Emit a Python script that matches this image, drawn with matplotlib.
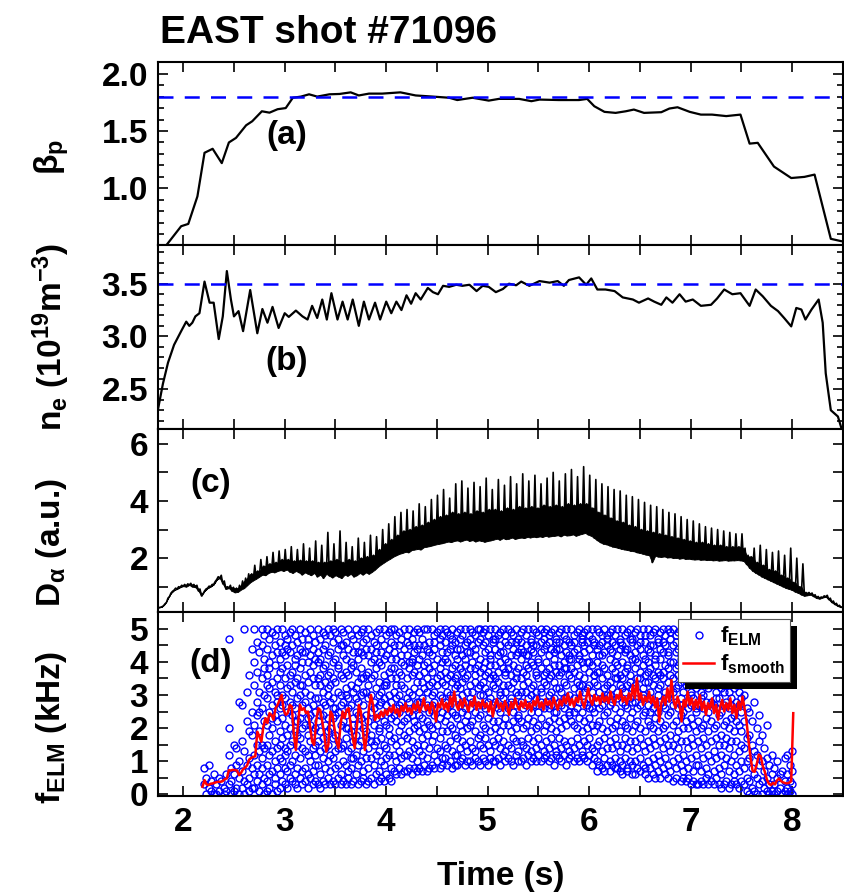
import numpy as np
import matplotlib.pyplot as plt
from matplotlib.ticker import MultipleLocator
from matplotlib.patches import Rectangle
from matplotlib.transforms import IdentityTransform

plt.rcParams['font.family'] = ['Liberation Sans', 'DejaVu Sans']
plt.rcParams['font.weight'] = 'bold'
plt.rcParams['axes.labelweight'] = 'bold'
plt.rcParams['mathtext.fontset'] = 'custom'
plt.rcParams['mathtext.rm'] = 'Liberation Sans:bold'
plt.rcParams['mathtext.it'] = 'Liberation Sans:bold'
plt.rcParams['mathtext.bf'] = 'Liberation Sans:bold'
plt.rcParams['mathtext.default'] = 'bf'

# (a) poloidal beta, (time, value)
beta_p = [(1.83, 0.50), (1.98, 0.67), (2.05, 0.69), (2.14, 0.93), (2.21, 1.31), (2.29, 1.345),
          (2.38, 1.22), (2.45, 1.40), (2.52, 1.44), (2.62, 1.55), (2.68, 1.585), (2.775, 1.672),
          (2.85, 1.66), (2.93, 1.69), (3.01, 1.70), (3.08, 1.79), (3.16, 1.80), (3.24, 1.82),
          (3.32, 1.80), (3.44, 1.82), (3.54, 1.823), (3.65, 1.837), (3.73, 1.81), (3.83, 1.826),
          (3.96, 1.826), (4.14, 1.837), (4.29, 1.81), (4.46, 1.80), (4.62, 1.79), (4.70, 1.77),
          (4.85, 1.79), (5.01, 1.765), (5.11, 1.78), (5.31, 1.78), (5.43, 1.76), (5.51, 1.774),
          (5.70, 1.77), (5.90, 1.77), (5.98, 1.78), (6.05, 1.716), (6.15, 1.667), (6.26, 1.658),
          (6.36, 1.672), (6.44, 1.687), (6.54, 1.658), (6.71, 1.664), (6.79, 1.696), (6.87, 1.707),
          (6.99, 1.667), (7.10, 1.643), (7.21, 1.643), (7.35, 1.63), (7.49, 1.643), (7.58, 1.39),
          (7.66, 1.397), (7.82, 1.19), (7.99, 1.09), (8.12, 1.10), (8.22, 1.12), (8.38, 0.56),
          (8.48, 0.54)]
beta_ref = 1.8

# (b) line-averaged density, (time, value)
n_e = [(1.75, 2.30), (1.80, 2.55), (1.85, 2.75), (1.91, 2.92), (1.98, 3.05), (2.03, 3.14),
       (2.06, 3.10), (2.09, 3.13), (2.12, 3.19), (2.16, 3.22), (2.21, 3.52), (2.26, 3.32),
       (2.30, 3.32), (2.35, 2.975), (2.39, 3.19), (2.43, 3.62), (2.47, 3.35), (2.50, 3.19),
       (2.545, 3.24), (2.59, 3.05), (2.66, 3.44), (2.73, 3.03), (2.78, 3.26), (2.83, 3.13),
       (2.88, 3.28), (2.94, 3.08), (3.00, 3.22), (3.04, 3.185), (3.11, 3.245), (3.175, 3.19),
       (3.225, 3.16), (3.27, 3.29), (3.32, 3.175), (3.37, 3.35), (3.415, 3.16), (3.46, 3.41),
       (3.52, 3.16), (3.57, 3.33), (3.62, 3.16), (3.67, 3.35), (3.73, 3.10), (3.78, 3.33),
       (3.83, 3.16), (3.89, 3.32), (3.94, 3.16), (4.00, 3.33), (4.05, 3.22), (4.10, 3.33),
       (4.15, 3.25), (4.20, 3.39), (4.245, 3.31), (4.29, 3.41), (4.34, 3.35), (4.41, 3.46),
       (4.46, 3.42), (4.51, 3.40), (4.56, 3.48), (4.62, 3.47), (4.69, 3.49), (4.75, 3.48),
       (4.82, 3.49), (4.89, 3.43), (4.95, 3.48), (5.01, 3.47), (5.08, 3.42), (5.15, 3.45),
       (5.21, 3.50), (5.28, 3.485), (5.33, 3.52), (5.41, 3.48), (5.51, 3.525), (5.61, 3.51),
       (5.69, 3.525), (5.75, 3.48), (5.80, 3.535), (5.90, 3.56), (5.97, 3.49), (6.02, 3.55),
       (6.08, 3.445), (6.16, 3.445), (6.25, 3.43), (6.33, 3.37), (6.43, 3.35), (6.49, 3.32),
       (6.58, 3.36), (6.64, 3.33), (6.71, 3.30), (6.76, 3.37), (6.82, 3.32), (6.89, 3.40),
       (6.95, 3.33), (7.02, 3.35), (7.10, 3.29), (7.20, 3.30), (7.26, 3.36), (7.33, 3.445),
       (7.41, 3.40), (7.49, 3.41), (7.58, 3.29), (7.64, 3.445), (7.71, 3.38), (7.79, 3.29),
       (7.86, 3.24), (7.92, 3.175), (7.99, 3.095), (8.04, 3.27), (8.09, 3.255), (8.13, 3.16),
       (8.19, 3.255), (8.26, 3.35), (8.30, 3.13), (8.33, 2.65), (8.38, 2.30), (8.45, 2.24),
       (8.50, 2.08)]
ne_ref = 3.5

# (c) D-alpha: baseline and spike tops, sampled every 0.03 s from 1.76 s
da_start, da_step = 1.76, 0.03
da_base = [0.27, 0.30, 0.40, 0.60, 0.78, 0.88, 0.92, 0.98, 1.02, 1.00,
           1.06, 1.00, 0.98, 0.85, 0.68, 0.85, 0.95, 1.00, 1.08, 1.25,
           1.30, 1.10, 0.92, 0.95, 0.85, 0.80, 0.82, 0.90, 0.95, 1.05,
           1.15, 1.22, 1.28, 1.35, 1.42, 1.40, 1.48, 1.52, 1.50, 1.55,
           1.58, 1.55, 1.60, 1.52, 1.48, 1.55, 1.50, 1.42, 1.50, 1.45,
           1.40, 1.48, 1.35, 1.42, 1.30, 1.45, 1.38, 1.32, 1.40, 1.35,
           1.30, 1.42, 1.38, 1.45, 1.35, 1.40, 1.48, 1.42, 1.50, 1.45,
           1.52, 1.60, 1.70, 1.78, 1.85, 1.92, 1.98, 2.05, 2.10, 2.15,
           2.18, 2.22, 2.20, 2.28, 2.30, 2.32, 2.30, 2.38, 2.40, 2.42,
           2.45, 2.48, 2.50, 2.52, 2.55, 2.58, 2.56, 2.60, 2.62, 2.58,
           2.62, 2.65, 2.60, 2.63, 2.58, 2.62, 2.60, 2.57, 2.60, 2.62,
           2.65, 2.68, 2.64, 2.70, 2.66, 2.68, 2.72, 2.67, 2.70, 2.72,
           2.70, 2.74, 2.72, 2.75, 2.73, 2.76, 2.74, 2.78, 2.75, 2.77,
           2.78, 2.80, 2.76, 2.82, 2.79, 2.80, 2.83, 2.78, 2.82, 2.85,
           2.88, 2.82, 2.78, 2.70, 2.62, 2.55, 2.50, 2.48, 2.44, 2.40,
           2.38, 2.35, 2.32, 2.30, 2.28, 2.25, 2.24, 2.20, 2.18, 2.15,
           2.12, 2.10, 1.85, 2.08, 2.05, 2.04, 2.06, 2.02, 2.03, 2.00,
           2.01, 1.98, 2.00, 1.97, 1.98, 1.96, 1.95, 1.96, 1.94, 1.95,
           1.93, 1.94, 1.92, 1.93, 1.91, 1.92, 1.93, 1.91, 1.92, 1.92,
           1.93, 1.92, 1.90, 1.78, 1.65, 1.55, 1.48, 1.42, 1.35, 1.30,
           1.25, 1.20, 1.15, 1.10, 1.05, 1.00, 0.95, 0.92, 0.88, 0.82,
           0.78, 0.72, 0.68, 0.70, 0.72, 0.66, 0.60, 0.58, 0.62, 0.65,
           0.55, 0.45, 0.38, 0.32, 0.28]
da_peak = [0.28, 0.33, 0.45, 0.66, 0.84, 0.95, 1.00, 1.05, 1.08, 1.10,
           1.12, 1.08, 1.05, 0.92, 0.75, 0.92, 1.02, 1.08, 1.18, 1.35,
           1.40, 1.20, 1.00, 1.05, 0.98, 0.95, 1.05, 1.20, 1.30, 1.45,
           1.45, 1.75, 1.55, 1.95, 1.72, 2.05, 1.80, 2.20, 1.85, 2.25,
           1.95, 2.30, 1.95, 2.40, 1.90, 2.30, 1.92, 2.50, 1.90, 2.35,
           1.90, 2.60, 1.85, 2.45, 1.85, 2.90, 1.90, 2.50, 1.95, 2.95,
           1.85, 2.55, 1.95, 2.40, 1.90, 2.70, 2.00, 2.55, 2.05, 2.80,
           2.10, 2.75, 2.30, 3.00, 2.50, 3.20, 2.65, 3.45, 2.80, 3.60,
           2.95, 3.70, 3.00, 3.65, 3.10, 3.90, 3.15, 3.80, 3.25, 4.05,
           3.35, 4.20, 3.45, 4.40, 3.50, 4.10, 3.60, 4.60, 3.55, 4.70,
           3.60, 4.45, 3.55, 4.65, 3.65, 4.50, 3.60, 4.80, 3.70, 4.40,
           3.70, 4.75, 3.65, 4.55, 3.75, 4.85, 3.70, 4.60, 3.80, 4.95,
           3.75, 4.70, 3.80, 4.90, 3.75, 4.60, 3.85, 4.80, 3.80, 5.00,
           3.85, 4.70, 3.80, 4.95, 3.90, 5.10, 3.85, 4.85, 3.90, 5.20,
           3.90, 4.90, 3.75, 4.75, 3.60, 4.60, 3.50, 4.50, 3.40, 4.40,
           3.30, 4.35, 3.25, 4.20, 3.15, 4.15, 3.10, 4.05, 3.00, 3.95,
           2.95, 3.85, 2.90, 3.80, 2.85, 3.70, 2.80, 3.60, 2.75, 3.55,
           2.70, 3.45, 2.65, 3.35, 2.60, 3.30, 2.55, 3.20, 2.55, 3.10,
           2.50, 3.05, 2.45, 3.00, 2.45, 2.95, 2.40, 2.90, 2.40, 2.85,
           2.40, 2.85, 2.35, 2.10, 2.05, 2.35, 1.85, 2.45, 1.75, 2.30,
           1.60, 2.20, 1.55, 2.25, 1.40, 2.10, 1.30, 2.35, 1.15, 2.00,
           1.00, 1.80, 0.80, 0.80, 0.78, 0.72, 0.66, 0.64, 0.68, 0.70,
           0.60, 0.50, 0.42, 0.35, 0.30]

# (d) individual ELM frequencies in 0.1 kHz, one group per 0.025 s from 2.2 s
elm_start, elm_step = 2.2, 0.025
elm_rows = [
    "8 3; 0 5; 2 9; 4 1; 0 6",
    "3 0; 1 5; 4; 2 0; 6 1",
    "47 20 12 3; 8 0 4; 15 6 1; 9 2 14; 5 28 0 10",
    "27 16 7 2; 50 13 4 0; 22 9 31 3; 36 11 5 1 19; 18 44 25 8 2",
    "50 33 21 12 6 2 40; 46 28 15 4 37 9 24; 19 13 43 6 31 1 25; 50 35 26 15 8 3 45 11; 38 22 48 14 5 30 0 41",
    "50 44 36 29 21 15 9 4 1 33; 47 40 32 25 18 12 6 2 38; 49 42 34 27 20 13 7 0 23; 45 39 31 24 16 10 5 3 48; 50 43 35 28 22 14 8 1 30",
    "46 41 33 26 19 11 6 2 37 15; 50 43 38 30 23 17 10 4 27; 48 42 35 29 21 14 8 3 12 45; 47 39 32 25 18 13 7 2 44; 49 43 36 28 20 15 9 5 33",
    "50 45 37 31 24 16 10 4 27; 48 41 34 26 19 12 6 3 39 22; 46 42 35 29 22 15 8 2 18; 50 44 38 30 23 17 11 5 33; 47 40 33 27 20 14 7 3 43 25",
    "49 43 36 28 21 13 8 4 31; 45 40 34 26 18 12 6 2 47 23; 50 42 37 30 24 16 10 5 21; 48 44 35 27 19 14 7 3 39; 46 41 33 25 20 15 9 4 29 12",
    "50 43 35 29 22 16 9 3 40; 47 41 33 26 19 13 6 2 36 24; 49 44 38 31 24 17 11 4 28; 45 39 34 27 21 14 8 3 48; 50 42 36 30 23 15 10 5 19 32",
    "48 43 37 28 20 12 7 3 33; 46 40 35 29 23 17 11 4 50 26; 49 41 34 26 18 13 8 3 24; 47 44 38 31 25 16 9 5 39 14; 50 45 36 30 21 14 6 3 27",
    "49 42 35 28 22 15 10 4 45; 46 41 37 30 24 17 9 3 32 20; 50 44 36 29 20 13 7 5 26; 48 40 33 27 19 14 8 3 38 11; 47 43 39 31 23 16 11 4 21",
    "50 45 37 32 25 18 12 6 29; 48 41 34 28 21 15 9 3 43 24; 49 43 38 30 23 16 10 4 35; 46 42 35 27 20 13 7 5 50 31; 47 44 36 31 24 17 11 3 19",
    "50 42 37 29 22 14 8 4 33; 48 44 35 30 25 18 11 5 40 16; 46 41 36 28 21 15 9 3 26; 49 43 38 32 23 16 12 6 45; 50 40 34 27 20 13 7 4 30 19",
    "47 43 39 31 24 17 10 5 28; 50 45 36 29 22 15 9 4 41 33; 48 42 34 27 21 14 11 6 33; 49 44 37 30 25 18 12 5 20; 46 41 35 28 23 16 8 4 50 38",
    "50 43 38 31 24 17 12 7 45; 48 41 35 29 22 15 10 6 33 26; 49 45 37 30 25 19 13 8 27; 47 42 36 28 21 16 11 6 40 33; 50 44 39 32 26 18 12 7 22",
    "48 42 35 29 23 17 12 7 46; 50 45 38 31 25 19 13 8 28 40; 47 41 36 30 24 16 11 6 40; 49 43 37 32 26 20 14 8 22 45; 50 44 34 28 21 15 10 7 39",
    "49 41 36 31 24 19 13 8 45 28; 47 42 34 29 23 17 12 7; 50 45 39 32 26 20 15 9 37; 44 40 35 27 22 18 11 7 50 31; 46 43 38 33 25 21 14 8",
    "50 42 37 30 27 20 16 9 34; 48 44 39 31 24 18 12 8 46 28; 49 41 35 33 26 21 14 10; 47 45 38 30 23 17 13 8 50 36; 43 40 34 29 25 19 11 9 48",
    "50 46 37 33 28 22 15 11 41; 49 43 40 31 26 19 14 9 35 24; 48 44 36 30 27 21 16 10; 50 45 38 34 25 20 13 8 29 47; 42 39 35 32 24 18 12 9 46",
    "49 44 41 36 29 23 17 12 9 33; 50 47 38 32 27 21 14 10 44; 48 42 37 30 25 19 16 11 34; 50 45 39 35 28 22 15 9 26 41; 46 43 36 31 24 20 13 10",
    "50 43 38 33 26 21 16 10 47 29; 49 45 40 31 28 22 14 9; 48 42 36 34 25 19 13 11 38 44; 50 46 39 32 27 23 17 10; 47 41 37 30 24 18 15 9 33 50",
    "49 45 38 34 27 21 14 11 30; 50 43 40 32 26 20 17 10 46 36; 48 44 37 31 28 23 15 9; 50 42 39 35 25 19 13 11 41 29; 47 46 36 33 27 22 16 10",
    "50 44 39 32 28 20 15 10 35 47; 48 42 37 34 26 22 17 11; 49 45 40 30 25 19 14 9 43 31; 50 43 38 33 29 21 16 12; 46 41 36 31 27 23 13 10 48 37",
    "50 45 40 33 26 21 15 11 38; 49 42 36 32 28 19 14 10 46 29; 48 44 39 34 25 22 17 9; 50 46 37 31 27 20 16 12 42 35; 47 43 38 30 24 23 13 10",
    "49 44 41 35 28 22 16 10 31 46; 50 43 37 33 26 20 15 11; 48 45 39 31 27 21 14 9 36 42; 50 42 38 34 29 23 17 12; 47 46 40 32 25 19 13 10 44 30",
    "50 43 39 33 27 22 16 11 45; 49 45 37 31 29 20 14 10 36 27; 48 41 40 35 25 21 17 12; 50 46 38 32 28 23 15 10 43 31; 47 44 36 34 26 19 13 11 49",
    "50 45 40 33 28 21 16 12 37; 48 42 38 35 26 22 14 10 46 30; 49 44 36 31 27 20 17 11; 50 43 41 34 29 23 15 9 39 25; 47 46 37 32 25 19 13 12 44",
    "49 44 39 36 28 22 17 11 32 46; 50 42 37 31 27 20 14 10; 48 45 40 34 26 23 16 12 38 29; 50 43 38 33 29 21 15 9 47; 46 41 36 30 25 24 13 11 42",
    "50 45 41 35 27 22 16 12 38; 48 43 37 32 29 21 14 10 46 25; 49 44 39 34 26 20 17 11; 50 42 36 31 28 23 15 10 41 33; 47 46 40 33 25 19 13 12 48",
    "49 43 38 35 28 22 16 11 31 45; 50 46 40 32 27 20 15 10; 48 44 37 33 29 23 17 12 40 26; 50 42 39 31 26 21 14 9 47; 46 45 36 34 25 19 13 11 36",
    "50 44 40 33 28 21 15 10 7 37; 49 42 37 31 26 22 16 9 45; 48 46 39 35 27 20 13 8 29 42; 50 43 38 32 29 24 17 11 7; 47 45 36 30 25 19 14 9 48 33",
    "49 44 41 34 27 22 16 10 7 30; 50 43 38 32 28 20 14 9 46; 48 45 37 35 26 21 17 11 8 40; 50 42 39 31 29 23 15 8 35; 47 46 36 33 25 19 13 10 7 44",
    "50 45 40 35 28 22 15 9 6 32; 48 43 37 31 27 21 17 11 44; 49 44 39 33 26 20 14 8 38 7; 50 42 36 34 29 23 16 10 47; 47 46 41 32 25 19 13 9 6 28",
    "49 43 38 33 28 21 16 10 6 41; 50 45 40 31 26 22 14 8 35; 48 44 37 35 27 20 17 11 7 46; 50 42 39 32 29 24 15 9 30; 46 41 36 34 25 19 13 8 6 48",
    "50 44 40 34 27 22 16 10 5 37; 48 43 38 31 29 21 14 8 45 25; 49 45 36 33 26 20 17 11 6; 50 42 39 35 28 23 15 9 5 41; 47 46 37 32 25 19 12 7 30",
    "49 44 41 33 28 22 16 10 5 36; 50 43 37 35 27 20 14 8 46; 48 45 39 31 26 21 17 11 6 29; 50 42 38 34 29 24 15 9 5 43; 47 40 36 32 25 18 13 7 49",
    "50 45 40 35 27 21 15 10 4 31; 48 43 38 32 28 22 17 8 5 46; 49 44 36 33 26 19 14 11 39; 50 42 41 34 29 24 16 9 4 27; 46 43 37 31 25 20 12 7 5 44",
    "49 44 39 33 28 22 16 10 4 37; 50 45 37 35 26 20 14 8 5 42; 48 43 41 31 27 23 17 11 3 30; 50 46 38 34 29 21 15 7 4 47; 47 42 36 32 25 19 12 9 3 26",
    "50 45 40 34 27 22 16 9 3 38; 48 43 37 31 29 20 14 7 4 46; 49 44 39 35 26 21 17 11 3 30; 50 42 38 33 28 23 15 8 5 41; 47 46 36 32 25 19 12 6 3 44",
    "49 43 41 33 28 22 16 10 4 35; 50 45 38 35 27 20 13 7 3 47; 48 44 37 31 26 21 17 11 5 29; 50 42 39 34 29 24 15 8 3 43; 46 41 36 32 25 18 12 6 2 38",
    "50 45 40 34 27 21 15 9 3 31; 48 43 37 33 28 22 17 11 4 46; 49 44 39 31 26 20 14 7 2 38; 50 42 38 35 29 23 16 10 3 27; 47 46 36 32 24 19 12 6 4 44",
    "49 44 39 33 28 22 16 9 3 36; 50 43 38 31 27 21 13 7 2 45; 48 45 37 34 25 19 15 10 4 29; 30 22 14 8 3; 26 17 10 5 1",
    "25 18 11 4 0; 22 15 8 2; 28 13 6 1; 20 12 5 0; 24 16 9 3",
    "18 10 4 0; 14 7 2; 21 11 5 1; 9 3 0; 12 6 1",
    "8 3 0; 10 5 1; 6 2; 7 0; 11 4 1",
    "12 6 2 0; 9 4 1; 13 7 3 0",
]

# (d) smoothed ELM frequency (kHz), every 0.02 s from 2.19 s
fs_start, fs_step = 2.19, 0.02
f_smooth = [0.23, 0.43, 0.30, 0.28, 0.32, 0.33, 0.35, 0.37, 0.38, 0.38,
            0.40, 0.46, 0.48, 0.73, 0.72, 0.74, 0.73, 0.72, 0.58, 0.65,
            0.76, 0.80, 0.88, 1.05, 1.10, 1.13, 1.15, 1.89, 1.75, 1.59,
            2.05, 2.30, 2.15, 2.45, 2.40, 2.25, 2.60, 2.70, 2.85, 3.00,
            2.55, 2.40, 2.45, 2.70, 2.65, 1.80, 1.34, 2.10, 2.70, 2.55,
            2.60, 2.45, 2.50, 2.05, 1.60, 1.49, 2.20, 2.60, 2.55, 2.20,
            1.80, 1.29, 1.50, 2.50, 2.40, 2.00, 1.60, 1.39, 2.10, 2.50,
            2.30, 2.55, 2.60, 2.10, 1.70, 1.39, 2.00, 2.70, 2.50, 1.90,
            1.34, 1.80, 2.60, 3.00, 2.70, 2.24, 2.40, 2.30, 2.50, 2.35,
            2.55, 2.40, 2.62, 2.48, 2.70, 2.45, 2.58, 2.35, 2.66, 2.52,
            2.75, 2.50, 2.60, 2.42, 2.72, 2.55, 2.80, 2.48, 2.65, 2.90,
            2.55, 2.70, 2.45, 2.78, 2.60, 2.20, 2.75, 2.62, 2.88, 2.58,
            2.76, 2.50, 2.95, 2.65, 3.10, 2.70, 2.55, 2.85, 2.62, 2.90,
            2.70, 2.50, 2.80, 2.65, 2.95, 2.55, 2.78, 2.60, 2.85, 2.62,
            2.75, 2.50, 2.80, 2.35, 2.70, 2.88, 2.60, 2.75, 2.52, 2.82,
            2.65, 2.40, 2.78, 2.60, 2.90, 2.68, 2.55, 2.80, 2.62, 2.85,
            2.58, 2.75, 2.50, 2.82, 2.68, 2.95, 2.62, 2.78, 2.55, 2.88,
            2.70, 2.82, 2.60, 2.92, 2.72, 2.55, 2.85, 2.68, 2.95, 2.75,
            3.05, 2.70, 2.88, 2.65, 2.92, 2.78, 3.10, 2.80, 2.62, 2.90,
            3.20, 2.85, 2.70, 3.00, 2.82, 2.95, 2.72, 3.05, 2.80, 2.95,
            2.75, 3.10, 2.85, 2.70, 3.00, 2.88, 3.15, 2.80, 2.95, 2.72,
            3.05, 2.85, 3.30, 2.90, 3.50, 2.85, 3.05, 2.70, 2.95, 2.80,
            3.10, 2.75, 2.95, 2.62, 2.90, 2.20, 2.75, 2.95, 2.70, 3.20,
            2.80, 3.45, 2.85, 2.60, 2.95, 2.72, 2.20, 2.85, 2.65, 3.10,
            2.70, 2.90, 2.55, 2.85, 2.62, 3.00, 2.55, 2.80, 2.40, 2.75,
            2.58, 2.90, 2.45, 2.70, 2.25, 2.65, 2.85, 2.50, 2.75, 2.55,
            2.90, 2.45, 2.70, 2.30, 2.80, 2.55, 2.95, 2.60, 2.20, 1.60,
            1.10, 0.70, 0.68, 0.90, 1.20, 1.15, 0.85, 0.68, 0.45, 0.32,
            0.28, 0.35, 0.30, 0.42, 0.48, 0.40, 0.36, 0.34, 0.33, 0.35,
            0.40, 2.45]

blue = '#0000ff'
red = '#ff0000'
dash = (0, (6, 4.5))
fs_lab = 24

fig, axes = plt.subplots(4, 1, sharex=True, figsize=(8.44, 8.93), dpi=100)
fig.subplots_adjust(left=0.187, right=0.9988, top=0.931, bottom=0.109, hspace=0)
ax_a, ax_b, ax_c, ax_d = axes

# (a)
t, v = zip(*beta_p)
ax_a.plot(t, v, color='k', lw=1.6)
ax_a.axhline(beta_ref, color=blue, lw=1.8, ls=dash)
ax_a.set_ylim(0.505, 2.105)
ax_a.set_yticks([1.0, 1.5, 2.0])
ax_a.yaxis.set_minor_locator(MultipleLocator(0.1))
ax_a.set_ylabel('β$_p$', fontsize=fs_lab)

# (b)
t, v = zip(*n_e)
ax_b.plot(t, v, color='k', lw=1.6)
ax_b.axhline(ne_ref, color=blue, lw=1.8, ls=dash)
ax_b.set_ylim(2.125, 3.866)
ax_b.set_yticks([2.5, 3.0, 3.5])
ax_b.yaxis.set_minor_locator(MultipleLocator(0.1))
ax_b.set_ylabel(r'n$_e$ (10$^{19}$m$^{-3}$)', fontsize=fs_lab)

# (c)
da_t = da_start + da_step * np.arange(len(da_base))
trace_t = np.column_stack([da_t, da_t + da_step / 2]).ravel()
trace_v = np.column_stack([da_base, da_peak]).ravel()
core = np.minimum(da_peak, np.roll(da_peak, 1))
ax_c.fill_between(da_t, da_base, np.maximum(core, da_base), color='k', lw=0.6)
ax_c.plot(trace_t, trace_v, color='k', lw=1.2)
ax_c.set_ylim(0.11, 6.53)
ax_c.set_yticks([2, 4, 6])
ax_c.yaxis.set_minor_locator(MultipleLocator(1))
ax_c.set_ylabel(r'D$_\alpha$ (a.u.)', fontsize=fs_lab)

# (d)
groups = [g for row in elm_rows for g in row.split(';')]
sc_t, sc_f = [], []
for k, g in enumerate(groups):
    for val in g.split():
        sc_t.append(elm_start + elm_step * k)
        sc_f.append(int(val) / 10)
ax_d.plot(sc_t, sc_f, ls='none', marker='o', ms=5, mfc='none', mec=blue, mew=1.0,
          label=r'f$_{ELM}$')
fs_t = fs_start + fs_step * np.arange(len(f_smooth))
ax_d.plot(fs_t, f_smooth, color=red, lw=1.8, label=r'f$_{smooth}$')
ax_d.set_ylim(-0.04, 5.5)
ax_d.set_yticks([0, 1, 2, 3, 4, 5])
ax_d.yaxis.set_minor_locator(MultipleLocator(0.5))
ax_d.set_ylabel(r'f$_{ELM}$ (kHz)', fontsize=fs_lab)
ax_d.set_xlabel('Time (s)', fontsize=fs_lab, labelpad=17)
leg = ax_d.legend(loc='upper right', bbox_to_anchor=(0.923, 0.962), borderaxespad=0,
                  fontsize=16, numpoints=1, handlelength=1.4, handletextpad=0.25,
                  borderpad=0.25, labelspacing=0.2, fancybox=False, framealpha=1,
                  edgecolor='#555555')
leg.get_frame().set_linewidth(0.8)

ax_d.set_xlim(1.75, 8.5)

label_y = [0.48, 0.5, 0.38, 0.37]
letters = ['(a)', '(b)', '(c)', '(d)']
letter_pos = [(0.188, 0.60), (0.188, 0.364), (0.077, 0.70), (0.077, 0.72)]
for ax, ly, let, (lx, lyy) in zip(axes, label_y, letters, letter_pos):
    ax.tick_params(which='both', direction='in', top=True, right=True, width=1.2,
                   labelsize=24)
    ax.tick_params(axis='y', which='major', length=7, pad=7)
    ax.tick_params(axis='y', which='minor', length=4)
    ax.tick_params(axis='x', which='both', length=7, pad=8)
    ax.xaxis.set_major_locator(MultipleLocator(1))
    ax.xaxis.set_minor_locator(MultipleLocator(0.5))
    for s in ax.spines.values():
        s.set_linewidth(1.5)
    ax.yaxis.set_label_coords(-0.155, ly)
    ax.yaxis.label.set_va('center')
    ax.text(lx, lyy, let, transform=ax.transAxes, fontsize=24, fontweight='bold',
            ha='center', va='center')

for ax in (ax_c, ax_d):
    ax.tick_params(axis='y', which='minor', length=7)

fig.text(0.19, 0.963, 'EAST shot #71096', fontsize=28, fontweight='bold',
         ha='left', va='center')

# black drop shadow behind the legend
fig.canvas.draw()
bb = leg.get_window_extent()
ax_d.add_patch(Rectangle((bb.x0 + 7, bb.y0 - 7), bb.width, bb.height,
                         transform=IdentityTransform(), facecolor='k',
                         edgecolor='none', zorder=4.9, clip_on=False))

fig.savefig('out.png', dpi=100)
